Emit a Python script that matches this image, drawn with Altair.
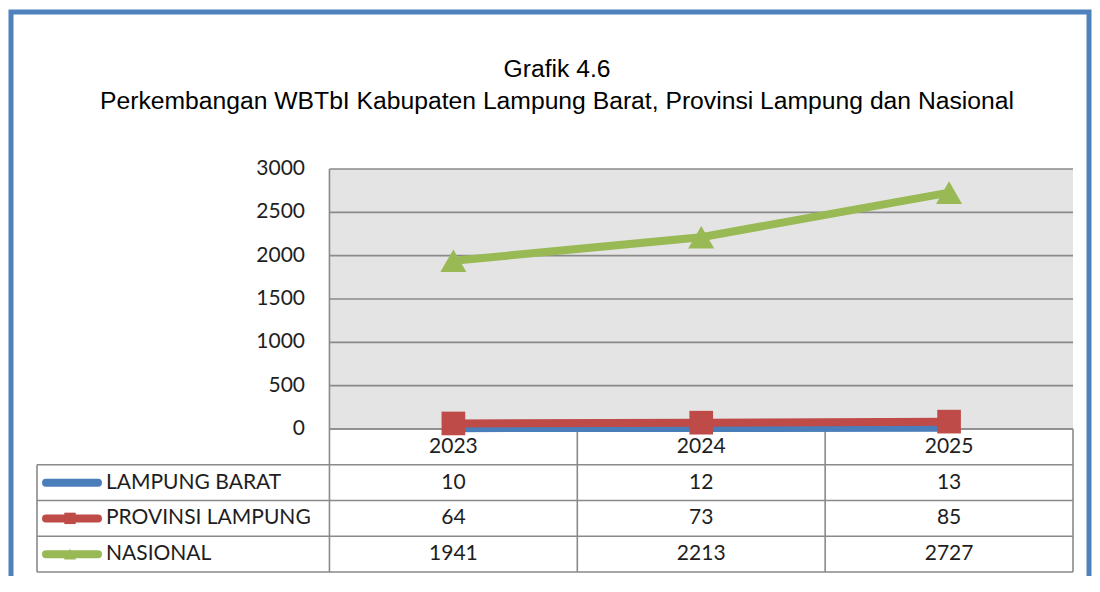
import altair as alt
import pandas as pd

# ---------------- data ----------------
years = ["2023", "2024", "2025"]
series_names = ["LAMPUNG BARAT", "PROVINSI LAMPUNG", "NASIONAL"]
lampung_barat = [10, 12, 13]
provinsi_lampung = [64, 73, 85]
nasional = [1941, 2213, 2727]
y_ticks = [0, 500, 1000, 1500, 2000, 2500, 3000]
title_lines = [
    "Grafik 4.6",
    "Perkembangan WBTbI Kabupaten Lampung Barat, Provinsi Lampung dan Nasional",
]

series_values = [lampung_barat, provinsi_lampung, nasional]

# ---------------- styles / layout ----------------
COLORS = ["#4a7ebb", "#be4b48", "#98b954"]
SHAPES = ["diamond", "square", "triangle-up"]
SIZES = [110, 560, 680]
LEG_SIZES = [45, 130, 150]
BORDER = "#4f81bd"
GRID = "#8a8a8a"
PLOT_BG = "#e4e4e4"
TEXT = "#1e1e1e"
FONT = "Lato"
FS = 21
TITLE_FONT = "Liberation Sans, Arial, sans-serif"
TITLE_FS = 24.7

W, H = 1084, 568
LEGEND_LEFT = -1.18  # left edge of legend column, in year-column widths
n_years = len(years)
n_rows = len(series_names) + 1
VMAX = y_ticks[-1]


def xs():
    return alt.Scale(domain=[LEGEND_LEFT, n_years], range=[29, 1065], nice=False, zero=False)


def ys():
    return alt.Scale(domain=[0, VMAX], range=[421, 161], nice=False, zero=False)


def rs():
    return alt.Scale(domain=[0, n_rows], range=[421, 564], nice=False, zero=False)


# ---------------- tables built from the arrays ----------------
long_rows = []
for i, (s, vals) in enumerate(zip(series_names, series_values)):
    for j, (yr, v) in enumerate(zip(years, vals)):
        long_rows.append({"series": s, "year": yr, "value": v, "label": str(v),
                          "col": j + 0.5, "row": i + 1.5})
long_df = pd.DataFrame(long_rows)

hdr_df = pd.DataFrame({"year": years, "col": [j + 0.5 for j in range(n_years)],
                       "row": [0.5] * n_years})
tick_df = pd.DataFrame({"tick": y_ticks, "label": [str(t) for t in y_ticks],
                        "x0": [0] * len(y_ticks), "x1": [n_years] * len(y_ticks)})
hline_df = pd.DataFrame({"row": list(range(n_rows + 1)),
                         "x0": [0] + [LEGEND_LEFT] * n_rows,
                         "x1": [n_years] * (n_rows + 1)})
vline_df = pd.DataFrame({"col": list(range(n_years + 1)) + [LEGEND_LEFT],
                         "r0": [0] * (n_years + 1) + [1],
                         "r1": [n_rows] * (n_years + 2)})
bg_df = pd.DataFrame({"x0": [0], "x1": [n_years], "v0": [0], "v1": [VMAX]})
edge_df = pd.DataFrame({"col": [0], "v0": [0], "v1": [VMAX]})
leg_df = pd.DataFrame({"series": series_names,
                       "row": [i + 1.5 for i in range(len(series_names))]})

layers = []

# outer frame
layers.append(
    alt.Chart(pd.DataFrame({"k": [0]})).mark_rect(
        fill="white", fillOpacity=0, stroke=BORDER, strokeWidth=5
    ).encode(x=alt.value(3), x2=alt.value(1081), y=alt.value(4), y2=alt.value(H + 60))
)

# titles
for txt, yb in zip(title_lines, [69, 101]):
    layers.append(
        alt.Chart(pd.DataFrame({"t": [txt]})).mark_text(
            font=TITLE_FONT, fontSize=TITLE_FS, align="center", baseline="alphabetic", color="#000000"
        ).encode(x=alt.value(549), y=alt.value(yb), text="t:N")
    )

# plot background
layers.append(
    alt.Chart(bg_df).mark_rect(color=PLOT_BG).encode(
        x=alt.X("x0:Q", scale=xs(), axis=None), x2="x1:Q",
        y=alt.Y("v0:Q", scale=ys(), axis=None), y2="v1:Q")
)

# gridlines
layers.append(
    alt.Chart(tick_df).mark_rule(color=GRID, strokeWidth=1.6).encode(
        x=alt.X("x0:Q", scale=xs(), axis=None), x2="x1:Q",
        y=alt.Y("tick:Q", scale=ys(), axis=None))
)

# y tick labels
layers.append(
    alt.Chart(tick_df).mark_text(align="right", baseline="middle", font=FONT, fontSize=FS, color=TEXT).encode(
        x=alt.value(297), y=alt.Y("tick:Q", scale=ys(), axis=None), text="label:N")
)

# plot left edge
layers.append(
    alt.Chart(edge_df).mark_rule(color=GRID, strokeWidth=1.6).encode(
        x=alt.X("col:Q", scale=xs(), axis=None),
        y=alt.Y("v0:Q", scale=ys(), axis=None), y2="v1:Q")
)

# table lines
layers.append(
    alt.Chart(hline_df).mark_rule(color=GRID, strokeWidth=1.6).encode(
        x=alt.X("x0:Q", scale=xs(), axis=None), x2="x1:Q",
        y=alt.Y("row:Q", scale=rs(), axis=None))
)
layers.append(
    alt.Chart(vline_df).mark_rule(color=GRID, strokeWidth=1.6).encode(
        x=alt.X("col:Q", scale=xs(), axis=None),
        y=alt.Y("r0:Q", scale=rs(), axis=None), y2="r1:Q")
)

# series lines and markers
for i, s in enumerate(series_names):
    base = alt.Chart(long_df).transform_filter(alt.datum.series == s)
    layers.append(
        base.mark_line(strokeWidth=8, color=COLORS[i]).encode(
            x=alt.X("col:Q", scale=xs(), axis=None),
            y=alt.Y("value:Q", scale=ys(), axis=None))
    )
    layers.append(
        base.mark_point(shape=SHAPES[i], size=SIZES[i], filled=True, opacity=1, color=COLORS[i]).encode(
            x=alt.X("col:Q", scale=xs(), axis=None),
            y=alt.Y("value:Q", scale=ys(), axis=None))
    )

# table header (years)
layers.append(
    alt.Chart(hdr_df).mark_text(align="center", baseline="middle", font=FONT, fontSize=FS, color=TEXT).encode(
        x=alt.X("col:Q", scale=xs(), axis=None),
        y=alt.Y("row:Q", scale=rs(), axis=None), text="year:N")
)

# table values
layers.append(
    alt.Chart(long_df).mark_text(align="center", baseline="middle", font=FONT, fontSize=FS, color=TEXT).encode(
        x=alt.X("col:Q", scale=xs(), axis=None),
        y=alt.Y("row:Q", scale=rs(), axis=None), text="label:N")
)

# legend keys in the table
for i, s in enumerate(series_names):
    lb = alt.Chart(leg_df).transform_filter(alt.datum.series == s)
    layers.append(
        lb.mark_rule(strokeWidth=8, strokeCap="round", color=COLORS[i]).encode(
            x=alt.value(38), x2=alt.value(90), y=alt.Y("row:Q", scale=rs(), axis=None))
    )
    layers.append(
        lb.mark_point(shape=SHAPES[i], size=LEG_SIZES[i], filled=True, opacity=1, color=COLORS[i]).encode(
            x=alt.value(62), y=alt.Y("row:Q", scale=rs(), axis=None))
    )
layers.append(
    alt.Chart(leg_df).mark_text(align="left", baseline="middle", font=FONT, fontSize=FS, color=TEXT).encode(
        x=alt.value(98), y=alt.Y("row:Q", scale=rs(), axis=None), text="series:N")
)

chart = (
    alt.layer(*layers)
    .resolve_scale(x="independent", y="independent")
    .properties(width=W, height=H, autosize=alt.AutoSizeParams(type="none"), padding=0, background="white")
    .configure_view(stroke=None)
)

chart.save("out.html", embed_options={"renderer": "svg", "actions": False})
